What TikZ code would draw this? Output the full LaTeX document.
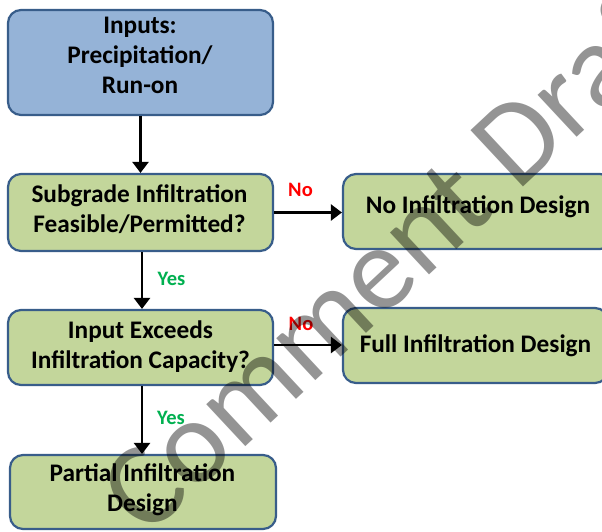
\documentclass[tikz,border=0pt]{standalone}
\usepackage{fontspec}
\setmainfont{Carlito}
\usetikzlibrary{arrows.meta}
\definecolor{bluefill}{RGB}{149,179,215}
\definecolor{greenfill}{RGB}{195,214,155}
\definecolor{boxborder}{RGB}{56,93,138}
\definecolor{noRed}{RGB}{255,0,0}
\definecolor{yesGreen}{RGB}{0,176,80}
\newcommand{\stackedlines}[1]{\begin{tabular}[t]{@{}c@{}}#1\end{tabular}}
\begin{document}
\begin{tikzpicture}[x=1pt,y=-1pt,
  box/.style={draw=boxborder, line width=2.2pt, rounded corners=13pt, inner sep=0pt},
  bluebox/.style={box, fill=bluefill},
  greenbox/.style={box, fill=greenfill},
  boxtext/.style={anchor=base, inner sep=0pt, font=\fontsize{25.3}{30}\selectfont\bfseries},
  arr/.style={line width=2.5pt, -{Triangle[length=11pt,width=16pt]}},
  nolabel/.style={anchor=base, inner sep=0pt, text=noRed, font=\fontsize{20.5}{24}\selectfont\bfseries},
  yeslabel/.style={anchor=base, inner sep=0pt, text=yesGreen, font=\fontsize{20.5}{24}\selectfont\bfseries},
  watermark/.style={anchor=base west, inner sep=0pt, rotate=43, text=black, text opacity=0.42, font=\fontsize{120}{124}\selectfont}]
\useasboundingbox (0,0) rectangle (602,531);
\clip (0,0) rectangle (602,531);
\fill[white] (0,0) rectangle (602,531);
% boxes
\node[bluebox, minimum width=265pt, minimum height=105pt] (inp) at (140.5,62.5) {};
\node[greenbox, minimum width=265pt, minimum height=77pt] (sub) at (140.5,212.5) {};
\node[greenbox, minimum width=270pt, minimum height=75pt] (noinf) at (478,211.5) {};
\node[greenbox, minimum width=265pt, minimum height=75pt] (exc) at (140.5,347.5) {};
\node[greenbox, minimum width=265pt, minimum height=75pt] (full) at (475.5,345.5) {};
\node[greenbox, minimum width=266pt, minimum height=74pt] (part) at (143,492) {};
% box texts
\node[boxtext] (inpT) at (140,33) {\stackedlines{Inputs:\\Precipitation/\\Run-on}};
\node[boxtext] (subT) at (139.5,202) {\stackedlines{Subgrade Infiltration\\Feasible/Permitted?}};
\node[boxtext] (noinfT) at (478,213) {No Infiltration Design};
\node[boxtext] (excT) at (140.5,338) {\stackedlines{Input Exceeds\\Infiltration Capacity?}};
\node[boxtext] (fullT) at (475.5,352) {Full Infiltration Design};
\node[boxtext] (partT) at (142.5,481) {\stackedlines{Partial Infiltration\\Design}};
% connectors
\draw[arr] (inp.south) -- (sub.north);
\draw[arr] (sub.east) -- (sub.east -| noinf.west);
\draw[arr] ([xshift=1.5pt]sub.south) -- ([xshift=1.5pt]exc.north);
\draw[arr] ([yshift=2.5pt]exc.east) -- ([yshift=2.5pt]exc.east -| full.west);
\draw[arr] ([xshift=1.5pt]exc.south) -- ([xshift=1.5pt]exc.south |- part.north);
% labels
\node[nolabel] (no1) at (300.5,196) {No};
\node[yeslabel] (yes1) at (171.5,285) {Yes};
\node[nolabel] (no2) at (301,330) {No};
\node[yeslabel] (yes2) at (171,424) {Yes};
% watermark
\node[watermark] (wm) at (146,539) {Comment Draft};
\end{tikzpicture}
\end{document}
